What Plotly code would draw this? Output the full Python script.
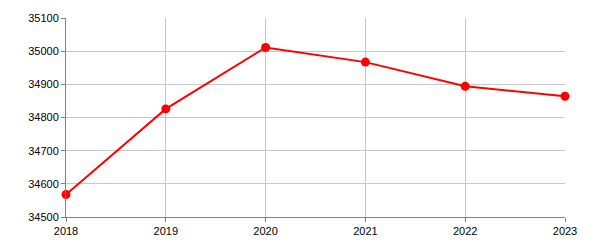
import plotly.graph_objects as go

years = [2018, 2019, 2020, 2021, 2022, 2023]
values = [34568, 34826, 35011, 34967, 34894, 34864]
y_ticks = [34500, 34600, 34700, 34800, 34900, 35000, 35100]

fig = go.Figure()
fig.add_trace(go.Scatter(
    x=years, y=values, mode="lines+markers",
    line=dict(color="#ff0000", width=2),
    marker=dict(color="#ff0000", size=9),
    cliponaxis=False,
    hoverinfo="x+y",
))

axis_common = dict(
    showgrid=True, gridcolor="#c8c8c8", gridwidth=1,
    showline=True, linecolor="#808080", linewidth=1,
    ticks="outside", ticklen=4, tickcolor="#808080",
    tickfont=dict(family="Liberation Sans, Arial, sans-serif", size=11, color="#000000"),
    zeroline=False,
)

fig.update_layout(
    width=600, height=250,
    margin=dict(l=66, r=35, t=15, b=33),
    paper_bgcolor="white", plot_bgcolor="white",
    showlegend=False,
    xaxis=dict(range=[2018, 2023], tickvals=years, ticktext=[str(y) for y in years], **axis_common),
    yaxis=dict(range=[34500, 35100], tickvals=y_ticks, ticktext=[str(v) for v in y_ticks], **axis_common),
)

fig.write_html("out.html", config={"displayModeBar": False})
